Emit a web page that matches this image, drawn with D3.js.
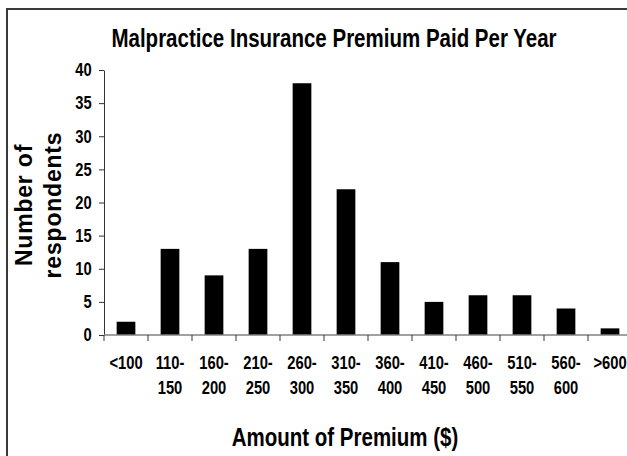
<!DOCTYPE html>
<html>
<head>
<meta charset="utf-8">
<script src="https://cdn.jsdelivr.net/npm/d3@7"></script>
<style>
  body { margin: 0; background: #fff; }
  svg { display: block; }
  .narrow { font-family: "Liberation Sans", Arial, sans-serif; font-weight: bold; }
  .wide { font-family: "Liberation Sans", Arial, sans-serif; font-weight: bold; }
</style>
</head>
<body>
<svg id="chart" width="627" height="456"></svg>
<script>
// Chart data
const categories = ["<100", "110-150", "160-200", "210-250", "260-300", "310-350",
  "360-400", "410-450", "460-500", "510-550", "560-600", ">600"];
const respondents = [2, 13, 9, 13, 38, 22, 11, 5, 6, 6, 4, 1];
const yTicks = [0, 5, 10, 15, 20, 25, 30, 35, 40];

// no Arial Narrow here, so squeeze Liberation Sans horizontally instead
const NARROW = 0.82;

const svg = d3.select("#chart");

// Outer frame (runs off the right and bottom edges like the original)
svg.append("rect")
  .attr("x", 7).attr("y", 9)
  .attr("width", 700).attr("height", 500)
  .attr("fill", "none")
  .attr("stroke", "#3a3a3a")
  .attr("stroke-width", 2);

// Scales
const x = d3.scaleBand()
  .domain(categories)
  .range([104, 632])
  .paddingInner(0.575)
  .paddingOuter(0.2875);

const y = d3.scaleLinear()
  .domain([0, 40])
  .range([335, 70]);

// Bars
svg.append("g")
  .selectAll("rect")
  .data(respondents)
  .join("rect")
  .attr("x", (d, i) => x(categories[i]))
  .attr("y", d => y(d))
  .attr("width", x.bandwidth())
  .attr("height", d => y(0) - y(d))
  .attr("fill", "#000");

// Y axis
const yAxis = svg.append("g")
  .attr("transform", "translate(104,0)")
  .call(d3.axisLeft(y).tickValues(yTicks).tickSize(5).tickPadding(10).tickSizeOuter(0));
yAxis.select(".domain").attr("stroke", "#333");
yAxis.selectAll(".tick line").attr("stroke", "#333");
yAxis.selectAll("text")
  .attr("class", "narrow")
  .attr("font-size", 18)
  .attr("transform", `scale(${NARROW},1)`)
  .attr("fill", "#000");

// X axis: ticks sit on the category boundaries
const xAxisG = svg.append("g").attr("transform", "translate(0,335)");
xAxisG.append("line")
  .attr("x1", 104).attr("x2", 632)
  .attr("stroke", "#808080").attr("stroke-width", 1.5);
xAxisG.selectAll(".bound")
  .data(categories)
  .join("line")
  .attr("class", "bound")
  .attr("x1", d => x(d) - x.step() * x.paddingOuter())
  .attr("x2", d => x(d) - x.step() * x.paddingOuter())
  .attr("y1", 0).attr("y2", 6)
  .attr("stroke", "#333");

// Category labels, split on the dash into two lines
const lbl = xAxisG.selectAll(".cat")
  .data(categories)
  .join("text")
  .attr("class", "cat narrow")
  .attr("font-size", 18)
  .attr("text-anchor", "middle")
  .attr("transform", d => `translate(${x(d) + x.bandwidth() / 2},0) scale(${NARROW},1)`)
  .attr("fill", "#000");
lbl.each(function(d) {
  const parts = d.includes("-") ? [d.split("-")[0] + "-", d.split("-")[1]] : [d];
  d3.select(this).selectAll("tspan")
    .data(parts)
    .join("tspan")
    .attr("x", 0)
    .attr("y", (p, i) => 34 + i * 25)
    .text(p => p);
});

// Titles
svg.append("text")
  .attr("class", "narrow")
  .attr("transform", `translate(334,47) scale(${NARROW},1)`)
  .attr("text-anchor", "middle")
  .attr("font-size", 25)
  .text("Malpractice Insurance Premium Paid Per Year");

svg.append("text")
  .attr("class", "narrow")
  .attr("transform", `translate(345,446) scale(${NARROW},1)`)
  .attr("text-anchor", "middle")
  .attr("font-size", 25)
  .text("Amount of Premium ($)");

const yTitle = svg.append("text")
  .attr("class", "wide")
  .attr("transform", "translate(0,205) rotate(-90)")
  .attr("text-anchor", "middle")
  .attr("font-size", 23)
  .attr("letter-spacing", 0.8);
yTitle.append("tspan").attr("x", 0).attr("y", 32).text("Number of");
yTitle.append("tspan").attr("x", 0).attr("y", 61).text("respondents");
</script>
</body>
</html>
